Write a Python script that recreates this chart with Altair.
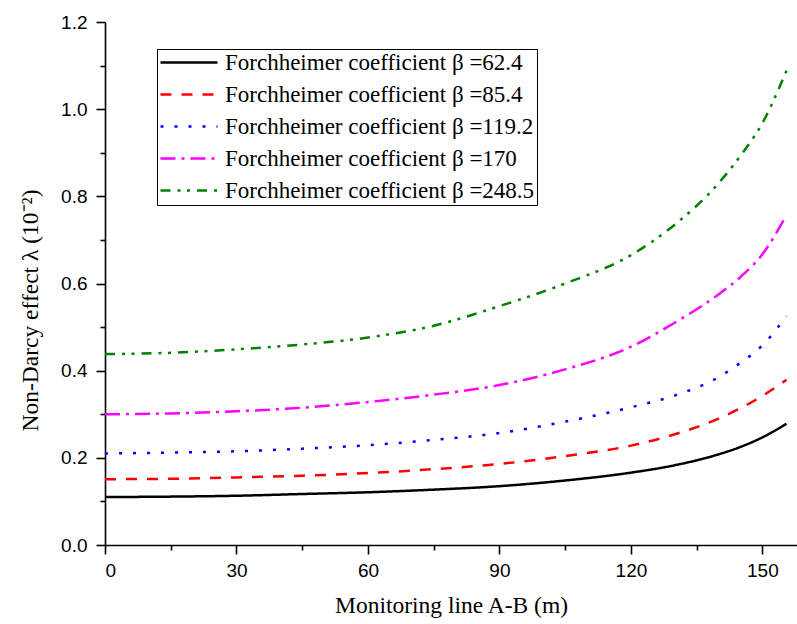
import altair as alt
import pandas as pd

# Monitoring line position (m)
xs = [0, 15, 30, 45, 60, 75, 90, 105, 120, 130, 140, 145, 150, 155.5]

# Non-Darcy effect λ (10^-2) for each Forchheimer coefficient
beta_62_4 = [0.110, 0.111, 0.113, 0.117, 0.121, 0.127, 0.135, 0.148, 0.166, 0.183, 0.208, 0.225, 0.247, 0.278]
beta_85_4 = [0.151, 0.152, 0.155, 0.159, 0.165, 0.174, 0.186, 0.204, 0.228, 0.254, 0.290, 0.314, 0.342, 0.379]
beta_119_2 = [0.210, 0.212, 0.215, 0.221, 0.229, 0.241, 0.257, 0.283, 0.316, 0.343, 0.385, 0.418, 0.458, 0.525]
beta_170 = [0.300, 0.302, 0.307, 0.315, 0.328, 0.345, 0.367, 0.403, 0.455, 0.510, 0.575, 0.615, 0.667, 0.757]
beta_248_5 = [0.438, 0.441, 0.449, 0.460, 0.476, 0.503, 0.548, 0.600, 0.665, 0.735, 0.830, 0.893, 0.968, 1.088]

series_names = [
    "Forchheimer coefficient β =62.4",
    "Forchheimer coefficient β =85.4",
    "Forchheimer coefficient β =119.2",
    "Forchheimer coefficient β =170",
    "Forchheimer coefficient β =248.5",
]
series_values = [beta_62_4, beta_85_4, beta_119_2, beta_170, beta_248_5]
series_colors = ["#000000", "#FF0000", "#0000FF", "#FF00FF", "#008000"]
series_dashes = [[1, 0], [11, 10], [3, 11], [15, 6, 3, 6], [10, 7, 3, 6.5, 3, 7]]

rows = []
for name, vals in zip(series_names, series_values):
    for x, y in zip(xs, vals):
        rows.append({"x": x, "y": y, "series": name})
df = pd.DataFrame(rows)

x_major = [0, 30, 60, 90, 120, 150]
x_minor = [15, 45, 75, 105, 135]
y_major = [0.0, 0.2, 0.4, 0.6, 0.8, 1.0, 1.2]
y_minor = [0.1, 0.3, 0.5, 0.7, 0.9, 1.1]

x_scale = alt.Scale(domain=[0, 157.9], nice=False, zero=False)
y_scale = alt.Scale(domain=[0, 1.2], nice=False)

main = alt.Chart(df).mark_line(strokeWidth=2.5, interpolate="monotone").encode(
    x=alt.X(
        "x:Q",
        scale=x_scale,
        axis=alt.Axis(
            values=x_major,
            title="Monitoring line A-B (m)",
            orient="bottom",
            tickSize=9,
            labelPadding=7,
            titleBaseline="alphabetic",
            titleY=67,
        ),
    ),
    y=alt.Y(
        "y:Q",
        scale=y_scale,
        axis=alt.Axis(
            values=y_major,
            format=".1f",
            title="Non-Darcy effect λ (10⁻²)",
            orient="left",
            tickSize=9,
            labelPadding=9,
            titleAngle=-90,
            titleBaseline="alphabetic",
            titleAlign="center",
            titleX=-68,
            titleY=288,
        ),
    ),
    color=alt.Color(
        "series:N",
        scale=alt.Scale(domain=series_names, range=series_colors),
        sort=series_names,
        legend=alt.Legend(
            title=None,
            orient="none",
            legendX=52,
            legendY=27,
            symbolType="M-1.43,0L6.71,0",
            symbolSize=196,
            symbolStrokeWidth=2.5,
            labelFont="Liberation Serif",
            labelFontSize=23,
            labelColor="#000000",
            labelOffset=43,
            padding=2,
            rowPadding=8,
            strokeColor="#000000",
            fillColor="#FFFFFF",
            labelLimit=400,
        ),
    ),
    strokeDash=alt.StrokeDash(
        "series:N",
        scale=alt.Scale(domain=series_names, range=series_dashes),
        sort=series_names,
        legend=None,
    ),
)

minor = alt.Chart(df).mark_line(strokeOpacity=0).encode(
    x=alt.X(
        "x:Q",
        scale=x_scale,
        axis=alt.Axis(values=x_minor, labels=False, domain=False, tickSize=5, title=None, orient="bottom"),
    ),
    y=alt.Y(
        "y:Q",
        scale=y_scale,
        axis=alt.Axis(values=y_minor, labels=False, domain=False, tickSize=5, title=None, orient="left"),
    ),
)

chart = (
    alt.layer(main, minor)
    .resolve_axis(x="independent", y="independent")
    .properties(
        width=692,
        height=523,
        autosize=alt.AutoSizeParams(type="none"),
        padding={"left": 105, "top": 22, "right": 0, "bottom": 79},
        background="#FFFFFF",
    )
    .configure_view(stroke="transparent")
    .configure_axis(
        grid=False,
        domainColor="#000000",
        domainWidth=1.6,
        tickColor="#000000",
        tickWidth=1.6,
        labelFont="Liberation Sans",
        labelFontSize=19,
        labelColor="#000000",
        titleFont="Liberation Serif",
        titleFontSize=23.5,
        titleFontWeight="normal",
        titleColor="#000000",
    )
)

chart.save("out.html", embed_options={"renderer": "svg", "actions": False})
